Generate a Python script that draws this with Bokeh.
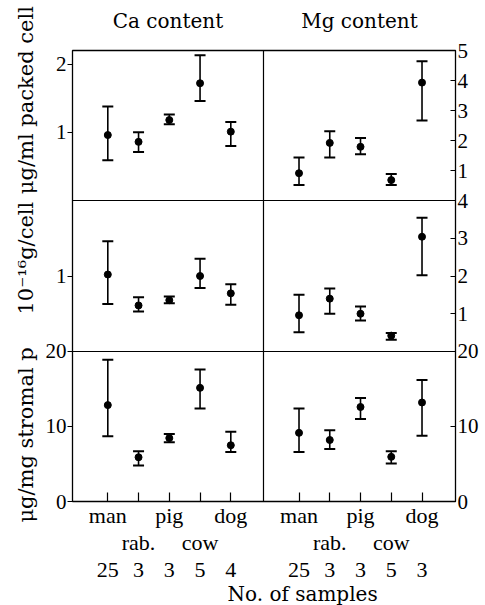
import math
from bokeh.plotting import figure
from bokeh.models import (Range1d, LinearAxis, FixedTicker, Whisker, TeeHead,
                          ColumnDataSource, Span, Title)
from bokeh.embed import file_html
from bokeh.resources import INLINE

# ---------------- data ----------------
species = ["man", "rab.", "pig", "cow", "dog"]
positions = [1, 2, 3, 4, 5]
ca_n = [25, 3, 3, 5, 4]
mg_n = [25, 3, 3, 5, 3]
col_titles = ["Ca content", "Mg content"]
row_labels = ["\u03bcg/ml packed cell", "10\u207b\u00b9\u2076g/cell", "\u03bcg/mg stromal p"]
xlabel = "No. of samples"

# row 1: ug/ml packed cell
ca_packed = [0.96, 0.86, 1.18, 1.72, 1.01]
ca_packed_lo = [0.59, 0.71, 1.12, 1.46, 0.80]
ca_packed_hi = [1.38, 1.00, 1.26, 2.13, 1.15]
mg_packed = [0.91, 1.92, 1.79, 0.68, 3.93]
mg_packed_lo = [0.52, 1.43, 1.54, 0.52, 2.67]
mg_packed_hi = [1.43, 2.31, 2.08, 0.88, 4.64]

# row 2: 10^-16 g/cell
ca_cell = [1.02, 0.61, 0.68, 1.00, 0.77]
ca_cell_lo = [0.63, 0.53, 0.64, 0.84, 0.62]
ca_cell_hi = [1.46, 0.72, 0.73, 1.23, 0.89]
mg_cell = [0.96, 1.40, 1.00, 0.42, 3.04]
mg_cell_lo = [0.51, 1.00, 0.82, 0.31, 2.02]
mg_cell_hi = [1.50, 1.67, 1.19, 0.49, 3.54]

# row 3: ug/mg stromal protein
ca_strom = [12.85, 5.9, 8.45, 15.15, 7.5]
ca_strom_lo = [8.7, 4.8, 7.9, 12.4, 6.6]
ca_strom_hi = [18.9, 6.7, 9.0, 17.6, 9.3]
mg_strom = [9.15, 8.2, 12.6, 5.95, 13.2]
mg_strom_lo = [6.6, 7.0, 11.0, 5.06, 8.75]
mg_strom_hi = [12.4, 9.5, 13.8, 6.7, 16.2]

left_ticks_r1 = [1, 2]
left_ticks_r2 = [1]
ticks_r3 = [0, 10, 20]
right_ticks_r1 = [1, 2, 3, 4, 5]
right_ticks_r2 = [1, 2, 3, 4]

# ---------------- layout ----------------
W, H = 485, 605
BL, BR, BT, BB = 72, 30, 50, 101
FW = W - BL - BR
FH = H - BT - BB
ROWS = [151, 152, 151]          # top, middle, bottom row heights (px)
CA_X = (-0.148, 12.307)
MG_X = (-6.366, 6.089)
DIVIDER = 6.063
SERIF = "Liberation Serif"
SERIF2 = "DejaVu Serif"

b3 = (0, ROWS[2])
b2 = (ROWS[2], ROWS[2] + ROWS[1])
b1 = (ROWS[2] + ROWS[1], FH)


def band_range(lo, hi, band):
    upp = (hi - lo) / (band[1] - band[0])
    start = lo - band[0] * upp
    return Range1d(start, start + FH * upp)


ydef = band_range(0, 20, b3)
xdef = Range1d(*CA_X)
extra_y = {
    "r2ca": band_range(0, 2, b2),
    "r2mg": band_range(0, 4, b2),
    "r1ca": band_range(0, 2.2, b1),
    "r1mg": band_range(0, 5, b1),
}
extra_x = {"mg": Range1d(*MG_X)}


def to_default_y(v, rng):
    return round(ydef.start + (v - rng.start) / (rng.end - rng.start) * (ydef.end - ydef.start), 9)


def to_default_x(v, rng):
    return round(xdef.start + (v - rng.start) / (rng.end - rng.start) * (xdef.end - xdef.start), 9)


def px_to_default_y(ypx):
    return round(ydef.start + (BT + FH - ypx) / FH * (ydef.end - ydef.start), 9)


p = figure(width=W, height=H, output_backend="svg", toolbar_location=None,
           x_range=xdef, y_range=ydef,
           x_axis_location=None, y_axis_location=None,
           min_border_left=BL, min_border_right=BR,
           min_border_top=BT, min_border_bottom=BB)
p.title.visible = False
p.extra_x_ranges = extra_x
p.extra_y_ranges = extra_y
p.xgrid.visible = False
p.ygrid.visible = False
p.outline_line_color = "black"
p.outline_line_width = 1.3
p.background_fill_color = "white"
p.border_fill_color = "white"

# dividers
p.add_layout(Span(location=DIVIDER, dimension="height", line_color="black", line_width=1.2))
p.add_layout(Span(location=20, dimension="width", line_color="black", line_width=1.2))
p.add_layout(Span(location=2, dimension="width", line_color="black", line_width=1.2,
                  y_range_name="r2ca"))


def series(mean, lo, hi, xr, yr):
    src = ColumnDataSource(dict(x=positions, y=mean, lower=lo, upper=hi))
    w = Whisker(base="x", upper="upper", lower="lower", source=src, dimension="height",
                line_color="black", line_width=1.6,
                upper_head=TeeHead(size=11, line_width=2, line_color="black"),
                lower_head=TeeHead(size=11, line_width=2, line_color="black"),
                x_range_name=xr, y_range_name=yr)
    p.add_layout(w)
    p.scatter("x", "y", source=src, size=7, color="black",
              x_range_name=xr, y_range_name=yr)


series(ca_packed, ca_packed_lo, ca_packed_hi, "default", "r1ca")
series(mg_packed, mg_packed_lo, mg_packed_hi, "mg", "r1mg")
series(ca_cell, ca_cell_lo, ca_cell_hi, "default", "r2ca")
series(mg_cell, mg_cell_lo, mg_cell_hi, "mg", "r2mg")
series(ca_strom, ca_strom_lo, ca_strom_hi, "default", "default")
series(mg_strom, mg_strom_lo, mg_strom_hi, "mg", "default")


def make_axis(ticks, labels, font=SERIF, size="21px", standoff=2, tick_in=0, tick_out=0,
              orientation="horizontal"):
    ax = LinearAxis(ticker=FixedTicker(ticks=ticks),
                    major_label_overrides={t: l for t, l in zip(ticks, labels)})
    ax.axis_line_color = None
    ax.minor_tick_line_color = None
    ax.major_tick_line_color = "black" if (tick_in or tick_out) else None
    ax.major_tick_line_width = 1.2
    ax.major_tick_in = tick_in
    ax.major_tick_out = tick_out
    ax.major_label_standoff = standoff
    ax.major_label_text_font = font
    ax.major_label_text_font_size = size
    ax.major_label_text_color = "black"
    ax.major_label_orientation = orientation
    return ax


# left tick axis (all three rows)
lt, ll = [], []
for ticks, rng in ((left_ticks_r1, extra_y["r1ca"]), (left_ticks_r2, extra_y["r2ca"]), (ticks_r3, ydef)):
    for t in ticks:
        lt.append(to_default_y(t, rng))
        ll.append(str(t))
p.add_layout(make_axis(lt, ll, standoff=1, tick_out=5), "left")

# left row labels
row_label_px = [100, 259, 437]
p.add_layout(make_axis([px_to_default_y(v) for v in row_label_px], row_labels,
                       font=SERIF2, size="21px", standoff=4, orientation="parallel"), "left")

# right tick axis
rt, rl = [], []
for ticks, rng in ((right_ticks_r1, extra_y["r1mg"]), (right_ticks_r2, extra_y["r2mg"]), (ticks_r3, ydef)):
    for t in ticks:
        rt.append(to_default_y(t, rng))
        rl.append(str(t))
p.add_layout(make_axis(rt, rl, standoff=2, tick_in=5), "right")

# column titles
centers = [round((CA_X[0] + DIVIDER) / 2, 9), round((DIVIDER + CA_X[1]) / 2, 9)]
p.add_layout(make_axis(centers, col_titles, font=SERIF2, size="20px", standoff=18), "above")

# bottom category / sample-count axes
mg_pos = [to_default_x(v, extra_x["mg"]) for v in positions]
row1_lab = [s if i % 2 == 0 else "" for i, s in enumerate(species)]
p.add_layout(make_axis(positions + mg_pos, row1_lab * 2, size="22px", standoff=1, tick_in=9), "below")
p.add_layout(make_axis(positions[1::2] + mg_pos[1::2], species[1::2] * 2, size="22px", standoff=-1), "below")
p.add_layout(make_axis(positions + mg_pos, [str(v) for v in ca_n + mg_n], size="22px", standoff=5), "below")

p.add_layout(Title(text=xlabel, align="left", offset=155, standoff=0,
                   text_font=SERIF2, text_font_size="20px", text_font_style="normal",
                   text_color="black"), "below")

open("out.html", "w").write(file_html(p, INLINE))
